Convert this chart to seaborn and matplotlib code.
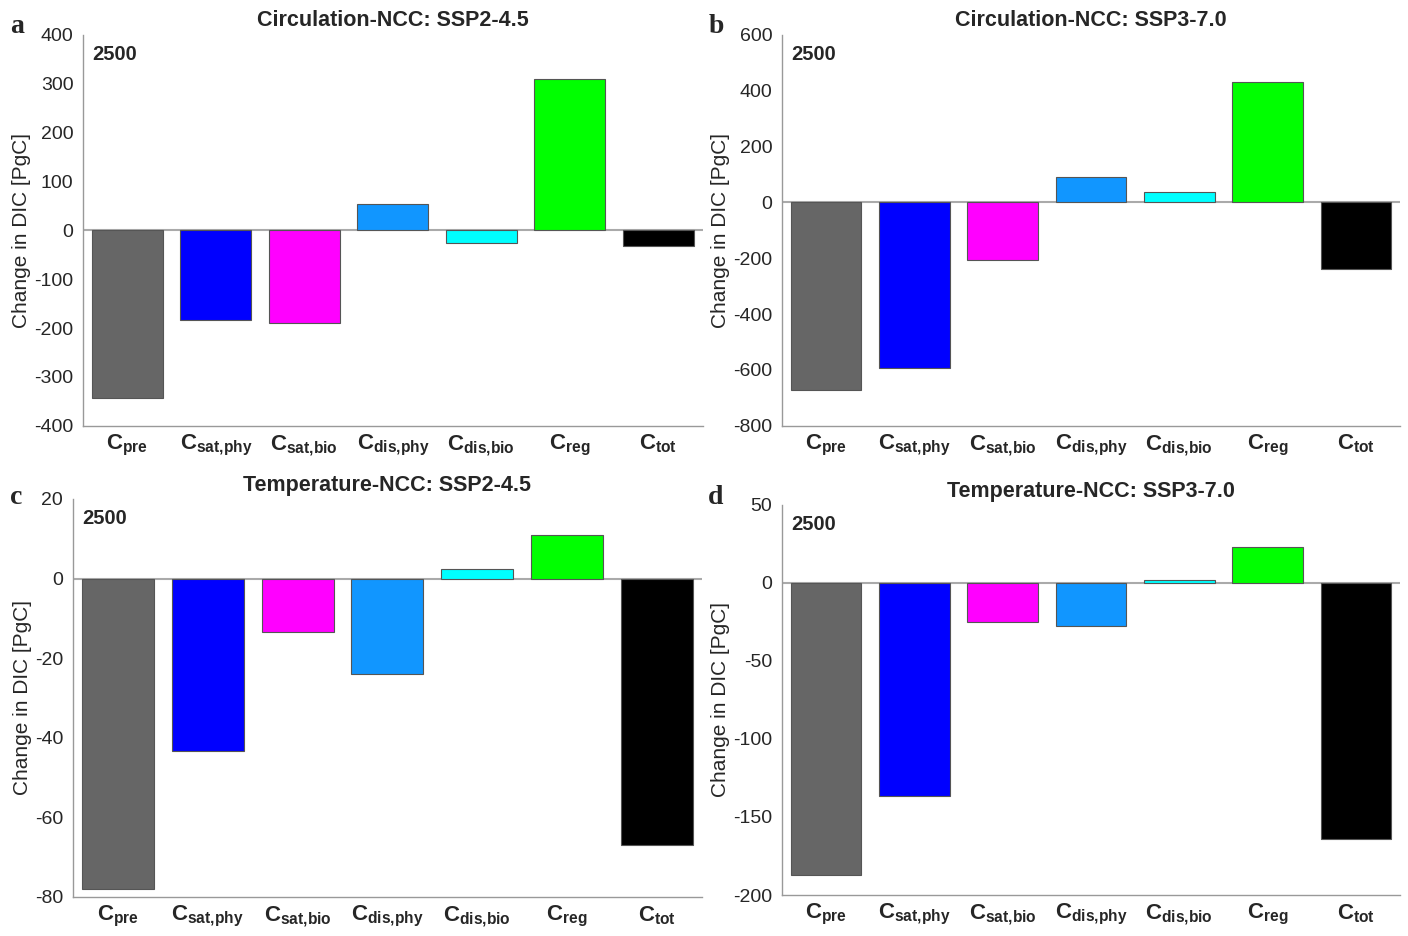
import matplotlib
matplotlib.use('Agg')
import matplotlib.pyplot as plt
import seaborn as sns
import pandas as pd

# Komponen karbon dan warnanya
components = ['pre', 'sat{,}phy', 'sat{,}bio', 'dis{,}phy', 'dis{,}bio', 'reg', 'tot']
bar_colors = ['#666666', '#0000ff', '#ff00ff', '#1196ff', '#00ffff', '#00ff00', '#000000']

# Perubahan DIC tahun 2500 [PgC]
circ_ssp245 = [-343, -183, -189, 54, -27, 310, -33]
circ_ssp370 = [-672, -593, -206, 91, 36, 432, -239]
temp_ssp245 = [-77.9, -43.2, -13.4, -23.9, 2.4, 10.9, -66.9]
temp_ssp370 = [-187.4, -136.5, -25.0, -27.6, 2.1, 22.9, -164.3]

panel_letters = ['a', 'b', 'c', 'd']
panel_titles = ['Circulation-NCC: SSP2-4.5', 'Circulation-NCC: SSP3-7.0',
                'Temperature-NCC: SSP2-4.5', 'Temperature-NCC: SSP3-7.0']
panel_values = [circ_ssp245, circ_ssp370, temp_ssp245, temp_ssp370]
y_limits = [(-400, 400), (-800, 600), (-80, 20), (-200, 50)]
y_steps = [100, 200, 20, 50]
year_label = '2500'

sns.set_style('white')
plt.rcParams['font.family'] = ['Liberation Sans', 'DejaVu Sans']
plt.rcParams['axes.unicode_minus'] = False
plt.rcParams['mathtext.fontset'] = 'custom'
plt.rcParams['mathtext.rm'] = 'Liberation Sans'
plt.rcParams['mathtext.bf'] = 'Liberation Sans:bold'

tick_labels = [r'$\mathbf{C_{%s}}$' % c for c in components]

fig = plt.figure(figsize=(14.08, 9.36), dpi=100)
# posisi tiap panel [kiri, bawah, lebar, tinggi]
boxes = [
    [0.059, 0.545, 0.440, 0.418],
    [0.5554, 0.545, 0.439, 0.418],
    [0.0518, 0.0417, 0.4467, 0.4252],
    [0.5554, 0.0438, 0.439, 0.4167],
]
letter_pos = [(0.007, 0.972), (0.503, 0.972), (0.007, 0.469), (0.503, 0.469)]

for i in range(4):
    ax = fig.add_axes(boxes[i])
    df = pd.DataFrame({'komponen': components, 'nilai': panel_values[i]})
    sns.barplot(data=df, x='komponen', y='nilai', hue='komponen',
                palette=bar_colors, order=components, hue_order=components,
                width=0.8, edgecolor='#555555', linewidth=0.8,
                legend=False, ax=ax, saturation=1)
    ax.axhline(0, color='#aaaaaa', lw=1.5, zorder=0.5)
    lo, hi = y_limits[i]
    ax.set_ylim(lo, hi)
    ax.set_yticks(range(lo, hi + 1, y_steps[i]))
    ax.set_xlim(-0.5, 6.5)
    ax.set_xticks(range(len(components)))
    ax.set_xticklabels(tick_labels, fontsize=16)
    ax.tick_params(axis='y', labelsize=14, direction='out', length=4,
                   color='#999999', labelcolor='#262626', pad=3)
    ax.tick_params(axis='x', direction='in', length=5, color='#999999',
                   labelcolor='#262626', pad=5)
    for s in ['top', 'right']:
        ax.spines[s].set_visible(False)
    for s in ['left', 'bottom']:
        ax.spines[s].set_color('#999999')
        ax.spines[s].set_linewidth(1.0)
    ax.set_xlabel('')
    ax.set_ylabel('Change in DIC [PgC]', fontsize=15, color='#262626', labelpad=2)
    ax.set_title(panel_titles[i], fontsize=15.5, fontweight='bold', color='#262626', pad=6)
    ax.text(0.015, 0.95, year_label, transform=ax.transAxes, fontsize=14.5,
            fontweight='bold', color='#262626', va='center', ha='left')
    fig.text(letter_pos[i][0], letter_pos[i][1], panel_letters[i],
             fontsize=20, fontweight='bold', family='Liberation Serif',
             va='center', ha='left')

fig.savefig('out.png', dpi=100)
